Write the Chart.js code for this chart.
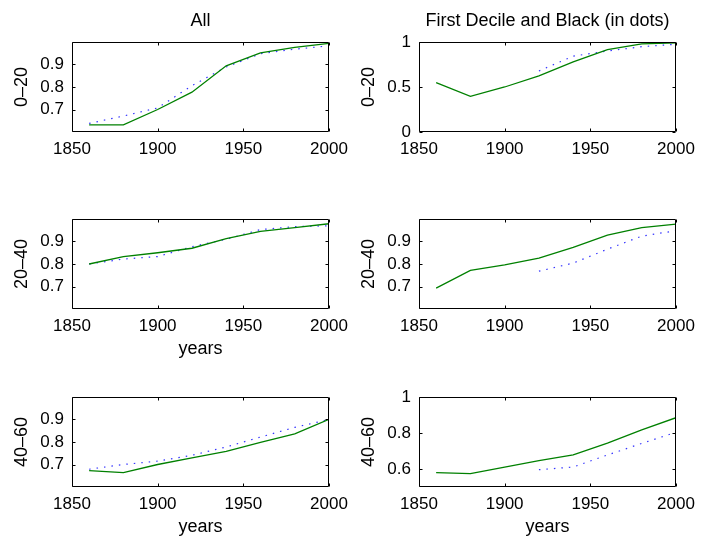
<!DOCTYPE html>
<html lang="en">
<head>
    <meta charset="UTF-8">
    <title>Deciles by age</title>
    <script src="https://cdn.jsdelivr.net/npm/chart.js@4.4.1/dist/chart.umd.min.js"></script>
    <style>
        body { margin: 0; background: #fff; overflow: hidden; }
        #wrap { position: relative; width: 703px; height: 543px; }
        #wrap canvas { position: absolute; }
    </style>
</head>
<body>
    <div id="wrap"></div>

    <script>
        // sample years (every 20 years)
        const years = [1860, 1880, 1900, 1920, 1940, 1960, 1980, 2000];

        // left column: all (green) vs dotted
        const all0to20 = [0.632, 0.632, 0.700, 0.777, 0.894, 0.952, 0.976, 0.994];
        const allDots0to20 = [0.638, 0.671, 0.707, 0.806, 0.889, 0.948, 0.968, 0.983];
        const all20to40 = [0.800, 0.833, 0.850, 0.870, 0.913, 0.945, 0.962, 0.979];
        const allDots20to40 = [0.800, 0.822, 0.833, 0.877, 0.910, 0.953, 0.966, 0.970];
        const all40to60 = [0.673, 0.664, 0.700, 0.729, 0.758, 0.798, 0.836, 0.901];
        const allDots40to60 = [0.679, 0.700, 0.715, 0.741, 0.778, 0.822, 0.865, 0.900];

        // right column: first decile (green) and black (dots, from 1920)
        const decile0to20 = [0.549, 0.396, 0.500, 0.623, 0.780, 0.916, 0.980, 0.990];
        const black0to20 = [null, null, null, 0.678, 0.843, 0.900, 0.948, 0.975];
        const decile20to40 = [0.693, 0.772, 0.796, 0.826, 0.874, 0.928, 0.962, 0.977];
        const black20to40 = [null, null, null, 0.768, 0.804, 0.866, 0.924, 0.948];
        const decile40to60 = [0.580, 0.574, 0.611, 0.647, 0.678, 0.744, 0.817, 0.885];
        const black40to60 = [null, null, null, 0.596, 0.611, 0.678, 0.742, 0.804];

        // tick labels
        const xTicks = [1850, 1900, 1950, 2000];
        const yTicksFine = [0.7, 0.8, 0.9];
        const yTicksUnit = [0, 0.5, 1];
        const yTicksHigh = [0.6, 0.8, 1];

        const panels = [
            { left: 72, top: 42, title: 'All', ylab: '0–20', xlab: '', ymin: 0.6, ymax: 1, yt: yTicksFine, solid: all0to20, dots: allDots0to20 },
            { left: 419, top: 42, title: 'First Decile and Black (in dots)', ylab: '0–20', xlab: '', ymin: 0, ymax: 1, yt: yTicksUnit, solid: decile0to20, dots: black0to20 },
            { left: 72, top: 219, title: '', ylab: '20–40', xlab: 'years', ymin: 0.6, ymax: 1, yt: yTicksFine, solid: all20to40, dots: allDots20to40 },
            { left: 419, top: 219, title: '', ylab: '20–40', xlab: '', ymin: 0.6, ymax: 1, yt: yTicksFine, solid: decile20to40, dots: black20to40 },
            { left: 72, top: 397, title: '', ylab: '40–60', xlab: 'years', ymin: 0.6, ymax: 1, yt: yTicksFine, solid: all40to60, dots: allDots40to60 },
            { left: 419, top: 397, title: '', ylab: '40–60', xlab: 'years', ymin: 0.5, ymax: 1, yt: yTicksHigh, solid: decile40to60, dots: black40to60 }
        ];

        const PLOT_W = 257, PLOT_H = 90;
        const Y_AXIS_W = 72, TOP_H = 42, X_AXIS_H = 60, RIGHT_PAD = 30;

        Chart.defaults.font.family = '"Liberation Sans", Arial, Helvetica, sans-serif';
        Chart.defaults.color = '#000';

        // matlab style box with inward ticks
        const framePlugin = {
            id: 'frame',
            afterDatasetsDraw(chart) {
                const { ctx, chartArea: a, scales: { x, y } } = chart;
                const L = Math.round(a.left) + 0.5, R = Math.round(a.right) - 0.5;
                const T = Math.round(a.top) + 0.5, B = Math.round(a.bottom) - 0.5;
                ctx.save();
                ctx.strokeStyle = '#000';
                ctx.lineWidth = 1;
                ctx.beginPath();
                ctx.rect(L, T, R - L, B - T);
                x.ticks.forEach(t => {
                    const px = Math.round(x.getPixelForValue(t.value)) + 0.5;
                    ctx.moveTo(px, B); ctx.lineTo(px, B - 3);
                    ctx.moveTo(px, T); ctx.lineTo(px, T + 3);
                });
                y.ticks.forEach(t => {
                    const py = Math.round(y.getPixelForValue(t.value)) + 0.5;
                    ctx.moveTo(L, py); ctx.lineTo(L + 3, py);
                    ctx.moveTo(R, py); ctx.lineTo(R - 3, py);
                });
                ctx.stroke();
                ctx.restore();
            }
        };

        const wrap = document.getElementById('wrap');
        panels.forEach(p => {
            const canvas = document.createElement('canvas');
            canvas.width = Y_AXIS_W + PLOT_W + RIGHT_PAD;
            canvas.height = TOP_H + PLOT_H + X_AXIS_H;
            canvas.style.left = (p.left - Y_AXIS_W) + 'px';
            canvas.style.top = (p.top - TOP_H) + 'px';
            wrap.appendChild(canvas);

            new Chart(canvas.getContext('2d'), {
                type: 'line',
                data: {
                    labels: years,
                    datasets: [{
                        data: years.map((yr, i) => ({ x: yr, y: p.solid[i] })),
                        borderColor: '#008000',
                        borderWidth: 1.3,
                        pointRadius: 0,
                        tension: 0
                    }, {
                        data: years.map((yr, i) => ({ x: yr, y: p.dots[i] })),
                        borderColor: '#3535ff',
                        borderWidth: 1.2,
                        borderDash: [1.5, 6],
                        pointRadius: 0,
                        tension: 0,
                        spanGaps: false
                    }]
                },
                options: {
                    responsive: false,
                    animation: false,
                    events: [],
                    layout: { padding: { top: p.title ? 0 : TOP_H, right: RIGHT_PAD, left: 0, bottom: 0 } },
                    plugins: {
                        legend: { display: false },
                        tooltip: { enabled: false },
                        title: {
                            display: !!p.title,
                            text: p.title,
                            fullSize: false,
                            font: { size: 18, weight: 'normal' },
                            padding: { top: 10, bottom: 10.4 },
                            color: '#000'
                        }
                    },
                    scales: {
                        x: {
                            type: 'linear',
                            min: 1850,
                            max: 2000,
                            grid: { display: false, drawTicks: false },
                            border: { display: false },
                            afterBuildTicks: s => { s.ticks = xTicks.map(v => ({ value: v })); },
                            afterFit: s => { s.height = X_AXIS_H; },
                            ticks: {
                                autoSkip: false,
                                maxRotation: 0,
                                padding: 7,
                                font: { size: 17 },
                                callback: v => String(v)
                            },
                            title: {
                                display: !!p.xlab,
                                text: p.xlab,
                                font: { size: 18 },
                                padding: { top: 0, bottom: 9 }
                            }
                        },
                        y: {
                            min: p.ymin,
                            max: p.ymax,
                            grid: { display: false, drawTicks: false },
                            border: { display: false },
                            afterBuildTicks: s => { s.ticks = p.yt.map(v => ({ value: v })); },
                            afterFit: s => { s.width = Y_AXIS_W; },
                            ticks: {
                                padding: 8,
                                font: { size: 17 },
                                callback: v => String(+v.toFixed(2))
                            },
                            title: {
                                display: true,
                                text: p.ylab,
                                font: { size: 18 },
                                padding: { top: 11.5, bottom: 0 }
                            }
                        }
                    }
                },
                plugins: [framePlugin]
            });
        });
    </script>
</body>
</html>
